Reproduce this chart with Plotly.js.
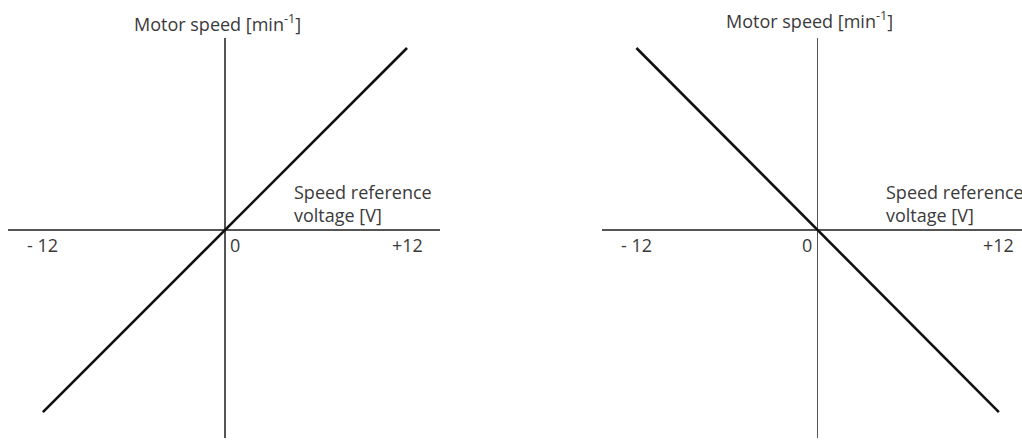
<!DOCTYPE html>
<html>
<head>
<meta charset="utf-8">
<script src="https://cdn.plot.ly/plotly-3.0.1.min.js"></script>
<style>html,body{margin:0;padding:0;background:#fff;}#chart{width:1022px;height:441px;}</style>
</head>
<body>
<div id="chart"></div>
<script>
// Data
const voltage = [-12, 0, 12];
const speedForward = [-12, 0, 12];
const speedReverse = [12, 0, -12];
const tickVals = [-12, 0, 12];
const tickLabels = ['- 12', '0', '+12'];
const yTitle = 'Motor speed [min<sup>-1</sup>]';
const xTitle = 'Speed reference<br>voltage [V]';

const font = {family: 'Open Sans, Liberation Sans, Arial, sans-serif', size: 18, color: '#3a3a3a'};
const lineStyle = {color: '#111', width: 2.6};

const traces = [
  {x: voltage, y: speedForward, xaxis: 'x', yaxis: 'y', mode: 'lines', line: lineStyle, hoverinfo: 'skip'},
  {x: voltage, y: speedReverse, xaxis: 'x2', yaxis: 'y2', mode: 'lines', line: lineStyle, hoverinfo: 'skip'}
];

const axisBase = {showgrid: false, showticklabels: false, ticks: '', showline: false,
  zeroline: true, zerolinecolor: '#555', zerolinewidth: 1.2, fixedrange: true};

const annotations = [];
function addLabels(xr, yr, zeroLeft, titleShift, titleY) {
  tickVals.forEach((v, i) => {
    let a = {xref: xr, yref: yr, x: v, y: 0, text: tickLabels[i], showarrow: false,
      font: font, yanchor: 'top', yshift: -1, xanchor: 'center'};
    if (v === 0) {
      if (zeroLeft) { a.xanchor = 'left'; a.xshift = 3; }
      else { a.xanchor = 'right'; a.xshift = -4; }
    }
    annotations.push(a);
  });
  annotations.push({xref: xr, yref: yr, x: 4.4, y: 0, text: xTitle, showarrow: false,
    font: font, xanchor: 'left', yanchor: 'bottom', align: 'left', yshift: 1});
  annotations.push({xref: xr, yref: 'paper', x: 0, y: titleY, text: yTitle, showarrow: false,
    font: font, xanchor: 'center', yanchor: 'middle', xshift: titleShift});
}
addLabels('x', 'y', true, -7, 1 - 23 / 441);
addLabels('x2', 'y2', false, -8, 1 - 20 / 441);

const layout = {
  width: 1022, height: 441,
  margin: {l: 0, r: 0, t: 0, b: 0},
  paper_bgcolor: '#fff', plot_bgcolor: '#fff',
  showlegend: false,
  xaxis: Object.assign({}, axisBase, {domain: [0.0078, 0.4305], range: [-14.3, 14.17]}),
  yaxis: Object.assign({}, axisBase, {domain: [0.0068, 0.9138], range: [-13.71, 12.66], anchor: 'x'}),
  xaxis2: Object.assign({}, axisBase, {domain: [0.589, 1], range: [-14.28, 13.53], anchor: 'y2'}),
  yaxis2: Object.assign({}, axisBase, {domain: [0.0068, 0.9138], range: [-13.71, 12.66], anchor: 'x2'}),
  annotations: annotations
};

Plotly.newPlot('chart', traces, layout, {displayModeBar: false, staticPlot: true});
</script>
</body>
</html>
